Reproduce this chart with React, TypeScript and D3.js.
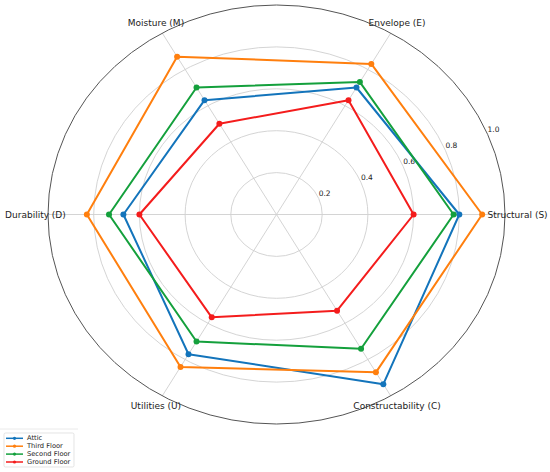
import React from "react";
import * as d3 from "d3";

const categories = ["Structural (S)", "Envelope (E)", "Moisture (M)", "Durability (D)", "Utilities (U)", "Constructability (C)"];
const seriesNames = ["Attic", "Third Floor", "Second Floor", "Ground Floor"];
const attic = [0.80, 0.70, 0.63, 0.67, 0.77, 0.935];
const thirdFloor = [0.90, 0.83, 0.87, 0.83, 0.84, 0.87];
const secondFloor = [0.775, 0.73, 0.70, 0.733, 0.70, 0.74];
const groundFloor = [0.60, 0.63, 0.50, 0.60, 0.567, 0.53];
const ringTicks = [0.2, 0.4, 0.6, 0.8, 1.0];
const colors = ["#1374bb", "#ff7f0e", "#14a03c", "#f41c1c"];

const W = 550, H = 472;
const cx = 276.5, cy = 214.5;
const RX = 228.5, RY = 209.5;
const FONT = "DejaVu Sans, sans-serif";

export default function App() {
  const sx = d3.scaleLinear().domain([0, 1]).range([0, RX]);
  const sy = d3.scaleLinear().domain([0, 1]).range([0, RY]);
  const angle = d3.scaleLinear().domain([0, categories.length]).range([0, 2 * Math.PI]);
  const pt = (i: number, v: number): [number, number] => {
    const a = angle(i);
    return [cx + sx(v) * Math.cos(a), cy - sy(v) * Math.sin(a)];
  };
  const all = [attic, thirdFloor, secondFloor, groundFloor];
  const line = d3.line<[number, number]>().x(d => d[0]).y(d => d[1]).curve(d3.curveLinearClosed);
  const labA = (22.5 * Math.PI) / 180;

  return (
    <svg width={W} height={H} style={{ position: "absolute", left: 0, top: 0, background: "#fff" }}>
      {ringTicks.slice(0, -1).map(t => (
        <ellipse key={t} cx={cx} cy={cy} rx={sx(t)} ry={sy(t)} fill="none" stroke="#cfcfcf" strokeWidth={0.9} />
      ))}
      {categories.map((c, i) => {
        const [x, y] = pt(i, 1);
        return <line key={c} x1={cx} y1={cy} x2={x} y2={y} stroke="#cfcfcf" strokeWidth={0.9} />;
      })}
      <ellipse cx={cx} cy={cy} rx={sx(1)} ry={sy(1)} fill="none" stroke="#555" strokeWidth={1} />
      {ringTicks.map(t => (
        <text key={t} x={cx + sx(t) * Math.cos(labA)} y={cy - sy(t) * Math.sin(labA) - 2}
          fontFamily={FONT} fontSize={7.5} fill="#222">{t.toFixed(1)}</text>
      ))}
      {all.map((vals, si) => {
        const pts = vals.map((v, i) => pt(i, v));
        return (
          <g key={si}>
            <path d={line(pts) || ""} fill="none" stroke={colors[si]} strokeWidth={2} strokeLinejoin="round" />
            {pts.map((p, i) => <circle key={i} cx={p[0]} cy={p[1]} r={3} fill={colors[si]} />)}
          </g>
        );
      })}
      {categories.map((c, i) => {
        const [x, y] = pt(i, 1.055);
        return (
          <text key={c} x={x} y={y} textAnchor="middle" dominantBaseline="central"
            fontFamily={FONT} fontSize={9} fill="#222">{c}</text>
        );
      })}
      <line x1={0} y1={429} x2={78} y2={429} stroke="#e4e4e4" strokeWidth={0.8} />
      <rect x={4} y={433} width={70} height={34} rx={1.5} fill="#fff" stroke="#d8d8d8" strokeWidth={0.7} />
      {seriesNames.map((n, i) => {
        const y = 438.3 + i * 7.9;
        return (
          <g key={n}>
            <line x1={6} y1={y} x2={23} y2={y} stroke={colors[i]} strokeWidth={1.5} />
            <circle cx={14.5} cy={y} r={1.6} fill={colors[i]} />
            <text x={27} y={y} dominantBaseline="central" fontFamily={FONT} fontSize={6.7} fill="#222">{n}</text>
          </g>
        );
      })}
    </svg>
  );
}
